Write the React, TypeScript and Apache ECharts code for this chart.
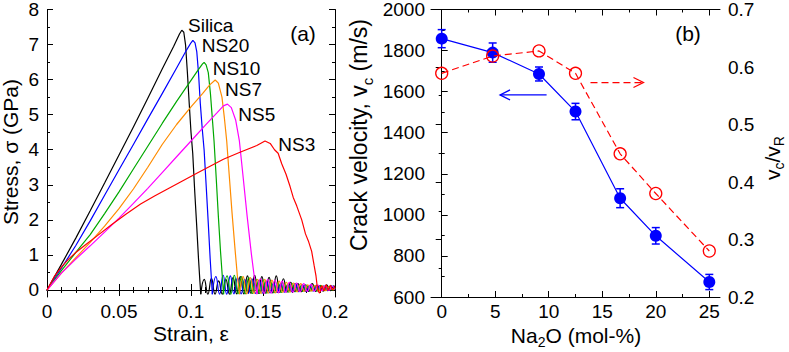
import React, { useEffect, useRef } from 'react';
import * as echarts from 'echarts';

const FONT = 'Liberation Sans';

// ---------- Panel (a): stress-strain curves ----------
const silicaMain = [[0,0],[0.01,0.73],[0.02,1.48],[0.03,2.26],[0.04,3.05],[0.05,3.85],[0.06,4.65],[0.07,5.47],[0.08,6.3],[0.088,6.95],[0.092,7.3],[0.0936,7.41],[0.095,7.35],[0.0962,7.0],[0.0975,6.2],[0.0988,5.3],[0.1,4.5],[0.1012,3.9],[0.1026,2.8],[0.104,1.8],[0.1052,0.9],[0.1061,0.3],[0.1068,-0.12]];
const silicaTail = [[0.1068,-0.12],[0.1092,0.30],[0.1117,-0.12],[0.1142,0.33],[0.1167,-0.12],[0.1192,0.26],[0.1217,-0.12],[0.1242,0.30],[0.1267,-0.12],[0.1292,0.35],[0.1317,-0.11],[0.1342,0.38],[0.1367,-0.11],[0.1392,0.40],[0.1417,-0.1],[0.1442,0.42],[0.1467,-0.1],[0.1492,0.38],[0.1517,-0.09],[0.1542,0.36],[0.1567,-0.08],[0.1592,0.40],[0.1617,-0.07],[0.1642,0.32],[0.1667,-0.06],[0.1692,0.22],[0.1717,-0.05],[0.1742,0.18],[0.1767,-0.05],[0.1792,0.15],[0.1817,-0.04],[0.1842,0.18],[0.1867,-0.04],[0.1892,0.12],[0.1917,-0.03],[0.1942,0.15],[0.1967,-0.02],[0.1992,0.12],[0.2,0.08]];

const ns20Main = [[0,0],[0.01,0.62],[0.02,1.27],[0.03,1.97],[0.04,2.7],[0.05,3.43],[0.06,4.15],[0.07,4.88],[0.08,5.6],[0.09,6.33],[0.097,6.85],[0.1,7.05],[0.1013,7.12],[0.1028,7.05],[0.104,6.8],[0.1052,6.2],[0.1065,5.3],[0.1078,4.6],[0.1091,4.0],[0.1105,3.0],[0.112,1.9],[0.1133,0.9],[0.1142,0.3],[0.1148,-0.12]];
const ns20Tail = [[0.1148,-0.12],[0.1173,0.38],[0.1198,-0.12],[0.1223,0.42],[0.1248,-0.12],[0.1273,0.40],[0.1298,-0.11],[0.1323,0.35],[0.1348,-0.11],[0.1373,0.30],[0.1398,-0.1],[0.1423,0.32],[0.1448,-0.1],[0.1473,0.28],[0.1498,-0.09],[0.1523,0.25],[0.1548,-0.08],[0.1573,0.2],[0.1598,-0.07],[0.1623,0.18],[0.1648,-0.06],[0.1673,0.15],[0.1698,-0.05],[0.1723,0.18],[0.1748,-0.05],[0.1773,0.15],[0.1798,-0.04],[0.1823,0.12],[0.1848,-0.03],[0.1873,0.14],[0.1898,-0.03],[0.1923,0.12],[0.1948,-0.02],[0.1973,0.12],[0.2,0.0]];

const ns10Main = [[0,0],[0.01,0.55],[0.02,1.07],[0.03,1.58],[0.04,2.18],[0.05,2.8],[0.06,3.45],[0.07,4.1],[0.08,4.75],[0.09,5.38],[0.1,5.98],[0.105,6.28],[0.108,6.45],[0.1091,6.49],[0.1105,6.42],[0.112,6.2],[0.1135,5.6],[0.1148,4.9],[0.116,4.25],[0.1175,3.2],[0.119,2.1],[0.1205,1.1],[0.1218,0.35],[0.1226,-0.12]];
const ns10Tail = [[0.1226,-0.12],[0.1251,0.4],[0.1276,-0.12],[0.1301,0.42],[0.1326,-0.11],[0.1351,0.38],[0.1376,-0.11],[0.1401,0.35],[0.1426,-0.1],[0.1451,0.3],[0.1476,-0.1],[0.1501,0.28],[0.1526,-0.09],[0.1551,0.25],[0.1576,-0.08],[0.1601,0.22],[0.1626,-0.07],[0.1651,0.2],[0.1676,-0.06],[0.1701,0.18],[0.1726,-0.05],[0.1751,0.15],[0.1776,-0.04],[0.1801,0.14],[0.1826,-0.03],[0.1851,0.12],[0.1876,-0.03],[0.1901,0.13],[0.1926,-0.02],[0.1951,0.1],[0.1976,0.0],[0.2,0.08]];

const ns7Main = [[0,0],[0.01,0.48],[0.02,0.92],[0.03,1.36],[0.04,1.82],[0.05,2.32],[0.06,2.88],[0.07,3.5],[0.08,4.15],[0.09,4.72],[0.1,5.22],[0.108,5.6],[0.113,5.85],[0.1168,5.99],[0.119,5.9],[0.1215,5.5],[0.1232,4.9],[0.1248,4.25],[0.1265,3.3],[0.1285,2.2],[0.1305,1.2],[0.1322,0.4],[0.1337,-0.12]];
const ns7Tail = [[0.1337,-0.12],[0.1362,0.38],[0.1387,-0.11],[0.1412,0.35],[0.1437,-0.1],[0.1462,0.3],[0.1487,-0.1],[0.1512,0.3],[0.1537,-0.09],[0.1562,0.28],[0.1587,-0.08],[0.1612,0.25],[0.1637,-0.07],[0.1662,0.22],[0.1687,-0.06],[0.1712,0.2],[0.1737,-0.05],[0.1762,0.18],[0.1787,-0.04],[0.1812,0.15],[0.1837,-0.03],[0.1862,0.13],[0.1887,-0.03],[0.1912,0.12],[0.1937,-0.02],[0.1962,0.1],[0.1987,0.0],[0.2,0.05]];

const ns5Main = [[0,0],[0.01,0.48],[0.02,0.88],[0.03,1.26],[0.04,1.65],[0.05,2.05],[0.06,2.47],[0.07,2.9],[0.08,3.35],[0.09,3.8],[0.1,4.25],[0.11,4.7],[0.118,5.05],[0.1225,5.25],[0.1253,5.3],[0.128,5.2],[0.131,4.85],[0.1336,4.25],[0.136,3.3],[0.139,2.1],[0.142,1.0],[0.1445,0.2],[0.1458,-0.12]];
const ns5Tail = [[0.1458,-0.12],[0.1483,0.32],[0.1508,-0.1],[0.1533,0.3],[0.1558,-0.09],[0.1583,0.28],[0.1608,-0.08],[0.1633,0.25],[0.1658,-0.07],[0.1683,0.22],[0.1708,-0.06],[0.1733,0.2],[0.1758,-0.05],[0.1783,0.18],[0.1808,-0.04],[0.1833,0.16],[0.1858,-0.03],[0.1883,0.14],[0.1908,-0.02],[0.1933,0.12],[0.1958,-0.01],[0.1983,0.1],[0.2,0.04]];

const ns3Main = [[0,0],[0.005,0.38],[0.01,0.65],[0.015,0.88],[0.02,1.07],[0.027,1.3],[0.035,1.55],[0.045,1.87],[0.055,2.17],[0.065,2.45],[0.075,2.69],[0.085,2.91],[0.095,3.13],[0.105,3.35],[0.1225,3.73],[0.134,3.93],[0.1457,4.12],[0.1514,4.25],[0.155,4.18],[0.158,4.0],[0.1605,3.9],[0.163,3.6],[0.166,3.3],[0.1688,2.95],[0.171,2.64],[0.1734,2.4],[0.1769,2.0],[0.1795,1.6],[0.1815,1.4],[0.1838,1.1],[0.1855,0.7],[0.1868,0.4],[0.1878,0.05]];
const ns3Tail = [[0.1878,0.05],[0.1893,-0.08],[0.1908,0.12],[0.1923,-0.02],[0.1938,0.15],[0.1953,0.0],[0.1968,0.13],[0.1983,0.02],[0.2,0.1]];

const curveNames = ['Silica', 'NS20', 'NS10', 'NS7', 'NS5', 'NS3'];
const curveColors = ['#000000', '#0000ff', '#00a800', '#ff8c00', '#ff00ff', '#ff0000'];
const curveMains = [silicaMain, ns20Main, ns10Main, ns7Main, ns5Main, ns3Main];
const curveTails = [silicaTail, ns20Tail, ns10Tail, ns7Tail, ns5Tail, ns3Tail];

const stressMajorTicks = [0, 1, 2, 3, 4, 5, 6, 7, 8];
const stressMinorTicks = [0.5, 1.5, 2.5, 3.5, 4.5, 5.5, 6.5, 7.5];

// ---------- Panel (b): crack velocity ----------
const na2o = [0, 4.76, 9.09, 12.5, 16.67, 20, 25];
const crackVelocity = [1858, 1790, 1686, 1503, 1081, 898, 673];
const crackVelocityErr = [44, 47, 34, 40, 46, 40, 37];
const velocityRatio = [0.589, 0.619, 0.628, 0.589, 0.449, 0.38, 0.28];
const naMajorTicks = [0, 5, 10, 15, 20, 25];
const naMinorTicks = [2.5, 7.5, 12.5, 17.5, 22.5];

const velocityArrow = { from: [9.8, 1584], to: [5.45, 1584] };
const ratioArrow = { from: [13.9, 0.573], to: [18.85, 0.573] };

const BLACK = '#000';
const axisLineStyle = { show: true, lineStyle: { color: BLACK, width: 1 } };
const labelStyle = { color: BLACK, fontSize: 19, fontFamily: FONT };

function majorTick(values?: number[]) {
  const t: any = { show: true, inside: true, length: 6, lineStyle: { color: BLACK, width: 1 } };
  if (values) t.customValues = values;
  return t;
}
function minorTickAxis(values: number[]) {
  return { show: true, inside: true, length: 3, lineStyle: { color: BLACK, width: 1 }, customValues: values };
}

export default function App() {
  const ref = useRef<HTMLDivElement>(null);
  useEffect(() => {
    if (!ref.current) return;
    const chart = echarts.init(ref.current, undefined, { renderer: 'svg' });

    const grids = [
      { left: 47, top: 7, width: 288, height: 290 },
      { left: 431, top: 7, width: 289, height: 290 },
    ];

    const xAxis: any[] = [
      { type: 'value', gridIndex: 0, position: 'bottom', min: 0, max: 0.2, interval: 0.05,
        axisLine: axisLineStyle, axisTick: majorTick(), minorTick: { show: true, splitNumber: 5, length: 3, lineStyle: { color: BLACK } },
        axisLabel: { ...labelStyle, margin: 5 }, splitLine: { show: false } },
      { type: 'value', gridIndex: 0, position: 'top', min: 0, max: 0.2, interval: 0.05,
        axisLine: axisLineStyle, axisTick: majorTick(), minorTick: { show: true, splitNumber: 5, length: 3, lineStyle: { color: BLACK } },
        axisLabel: { show: false }, splitLine: { show: false } },
      { type: 'value', gridIndex: 1, position: 'bottom', min: -1, max: 26,
        axisLine: axisLineStyle, axisTick: majorTick(naMajorTicks),
        axisLabel: { ...labelStyle, margin: 5, customValues: naMajorTicks }, splitLine: { show: false } },
      { type: 'value', gridIndex: 1, position: 'top', min: -1, max: 26,
        axisLine: axisLineStyle, axisTick: majorTick(naMajorTicks),
        axisLabel: { show: false }, splitLine: { show: false } },
      { type: 'value', gridIndex: 1, position: 'bottom', min: -1, max: 26,
        axisLine: { show: false }, axisTick: minorTickAxis(naMinorTicks), axisLabel: { show: false }, splitLine: { show: false } },
      { type: 'value', gridIndex: 1, position: 'top', min: -1, max: 26,
        axisLine: { show: false }, axisTick: minorTickAxis(naMinorTicks), axisLabel: { show: false }, splitLine: { show: false } },
    ];

    const yAxis: any[] = [
      { type: 'value', gridIndex: 0, position: 'left', min: -0.2, max: 8,
        axisLine: axisLineStyle, axisTick: majorTick(stressMajorTicks),
        axisLabel: { ...labelStyle, margin: 8, customValues: stressMajorTicks }, splitLine: { show: false } },
      { type: 'value', gridIndex: 0, position: 'left', min: -0.2, max: 8,
        axisLine: { show: false }, axisTick: minorTickAxis(stressMinorTicks), axisLabel: { show: false }, splitLine: { show: false } },
      { type: 'value', gridIndex: 0, position: 'right', min: -0.2, max: 8,
        axisLine: axisLineStyle, axisTick: majorTick(stressMajorTicks), axisLabel: { show: false }, splitLine: { show: false } },
      { type: 'value', gridIndex: 0, position: 'right', min: -0.2, max: 8,
        axisLine: { show: false }, axisTick: minorTickAxis(stressMinorTicks), axisLabel: { show: false }, splitLine: { show: false } },
      { type: 'value', gridIndex: 1, position: 'left', min: 600, max: 2000, interval: 200,
        axisLine: axisLineStyle, axisTick: majorTick(), minorTick: { show: true, splitNumber: 2, length: 3, lineStyle: { color: BLACK } },
        axisLabel: { ...labelStyle, margin: 6, formatter: (v: number) => String(Math.round(v)) }, splitLine: { show: false } },
      { type: 'value', gridIndex: 1, position: 'right', min: 0.2, max: 0.7, interval: 0.1,
        axisLine: axisLineStyle, axisTick: majorTick(), minorTick: { show: true, splitNumber: 2, length: 3, lineStyle: { color: BLACK } },
        axisLabel: { ...labelStyle, margin: 8, formatter: (v: number) => v.toFixed(1) }, splitLine: { show: false } },
    ];

    const series: any[] = [];
    curveNames.forEach((name, i) => {
      series.push({
        name, type: 'line', xAxisIndex: 0, yAxisIndex: 0, data: curveMains[i], showSymbol: false, symbol: 'none',
        lineStyle: { color: curveColors[i], width: 1.2 }, silent: true, z: 2 + i,
      });
      series.push({
        name: name + ' tail', type: 'line', xAxisIndex: 0, yAxisIndex: 0, data: curveTails[i], showSymbol: false, symbol: 'none',
        smooth: 0.5, lineStyle: { color: curveColors[i], width: 1.2 }, silent: true, z: 2 + i,
      });
    });

    const errData = na2o.map((x, i) => [x, crackVelocity[i] - crackVelocityErr[i], crackVelocity[i] + crackVelocityErr[i]]);
    series.push({
      name: 'errorbars', type: 'custom', xAxisIndex: 2, yAxisIndex: 4, data: errData, z: 10,
      encode: { x: 0, y: [1, 2] },
      renderItem: (params: any, api: any) => {
        const x = api.value(0);
        const lo = api.coord([x, api.value(1)]);
        const hi = api.coord([x, api.value(2)]);
        const w = 4;
        const st = { stroke: '#0000ff', lineWidth: 1.5 };
        return {
          type: 'group',
          children: [
            { type: 'line', shape: { x1: lo[0], y1: lo[1], x2: hi[0], y2: hi[1] }, style: st },
            { type: 'line', shape: { x1: lo[0] - w, y1: lo[1], x2: lo[0] + w, y2: lo[1] }, style: st },
            { type: 'line', shape: { x1: hi[0] - w, y1: hi[1], x2: hi[0] + w, y2: hi[1] }, style: st },
          ],
        };
      },
    });
    series.push({
      name: 'Crack velocity', type: 'line', xAxisIndex: 2, yAxisIndex: 4, z: 11,
      data: na2o.map((x, i) => [x, crackVelocity[i]]),
      symbol: 'circle', symbolSize: 12, itemStyle: { color: '#0000ff' },
      lineStyle: { color: '#0000ff', width: 1.2 },
    });
    series.push({
      name: 'vc/vR', type: 'line', xAxisIndex: 2, yAxisIndex: 5, z: 12,
      data: na2o.map((x, i) => [x, velocityRatio[i]]),
      symbol: 'circle', symbolSize: 12, itemStyle: { color: 'rgba(255,255,255,0)', borderColor: '#ff0000', borderWidth: 1.3 },
      lineStyle: { color: '#ff0000', width: 1.2, type: [7, 4] },
    });

    chart.setOption({
      animation: false,
      backgroundColor: '#fff',
      grid: grids,
      xAxis, yAxis, series,
    });

    const txt = (text: string, x: number, y: number, size: number, extra: any = {}) => ({
      type: 'text', x, y, z: 100, ...extra,
      style: { text, fill: BLACK, fontSize: size, fontFamily: FONT, align: 'center', verticalAlign: 'middle' },
    });
    const makeRich = (size: number) => ({
      n: { fontSize: size, fontFamily: FONT, fill: BLACK, lineHeight: Math.round(size * 1.33), verticalAlign: 'middle' },
      s: { fontSize: Math.round(size * 0.67), fontFamily: FONT, fill: BLACK, lineHeight: Math.round(size * 0.67), verticalAlign: 'bottom' },
    });
    const richText = (text: string, x: number, y: number, rotation: number, size: number) => ({
      type: 'text', x, y, rotation, z: 100,
      style: { text, rich: makeRich(size), align: 'center', verticalAlign: 'middle', fontSize: size, fontFamily: FONT, fill: BLACK },
    });

    const labelText = (text: string, x: number, y: number) => ({
      type: 'text', x, y, z: 100,
      style: { text, fill: BLACK, fontSize: 19, fontFamily: FONT, align: 'left', verticalAlign: 'middle' },
    });

    const a1 = chart.convertToPixel({ xAxisIndex: 2, yAxisIndex: 4 } as any, velocityArrow.from) as number[];
    const a2 = chart.convertToPixel({ xAxisIndex: 2, yAxisIndex: 4 } as any, velocityArrow.to) as number[];
    const r1 = chart.convertToPixel({ xAxisIndex: 2, yAxisIndex: 5 } as any, ratioArrow.from) as number[];
    const r2 = chart.convertToPixel({ xAxisIndex: 2, yAxisIndex: 5 } as any, ratioArrow.to) as number[];

    const graphic: any[] = [
      txt('Strain, ε', 191, 333, 21),
      txt('Stress, σ (GPa)', 10, 152, 21, { rotation: Math.PI / 2 }),
      txt('(a)', 303, 33, 21),
      txt('(b)', 688, 33, 21),
      richText('{n|Crack velocity, v}{s|c}{n| (m/s)}', 359, 135, Math.PI / 2, 23),
      richText('{n|v}{s|c}{n|/v}{s|R}', 772, 158, Math.PI / 2, 21),
      richText('{n|Na}{s|2}{n|O (mol-%)}', 576, 335, 0, 21),
      labelText('Silica', 188, 25),
      labelText('NS20', 201.7, 45),
      labelText('NS10', 212.7, 68.3),
      labelText('NS7', 225, 89.3),
      labelText('NS5', 238.3, 114),
      labelText('NS3', 278.3, 144),
    ];
    if (a1 && a2) {
      graphic.push({ type: 'line', z: 50, shape: { x1: a1[0], y1: a1[1], x2: a2[0], y2: a2[1] }, style: { stroke: '#0000ff', lineWidth: 1.3 } });
      graphic.push({ type: 'polyline', z: 50, shape: { points: [[a2[0] + 10, a2[1] - 5], [a2[0], a2[1]], [a2[0] + 10, a2[1] + 5]] }, style: { stroke: '#0000ff', lineWidth: 1.3, fill: 'none' } });
    }
    if (r1 && r2) {
      graphic.push({ type: 'line', z: 50, shape: { x1: r1[0], y1: r1[1], x2: r2[0], y2: r2[1] }, style: { stroke: '#ff0000', lineWidth: 1.3, lineDash: [7, 4] } });
      graphic.push({ type: 'polyline', z: 50, shape: { points: [[r2[0] - 10, r2[1] - 5], [r2[0], r2[1]], [r2[0] - 10, r2[1] + 5]] }, style: { stroke: '#ff0000', lineWidth: 1.3, fill: 'none' } });
    }
    chart.setOption({ graphic });

    return () => chart.dispose();
  }, []);

  return <div ref={ref} style={{ position: 'absolute', left: 0, top: 0, width: 789, height: 352, background: '#fff' }} />;
}
